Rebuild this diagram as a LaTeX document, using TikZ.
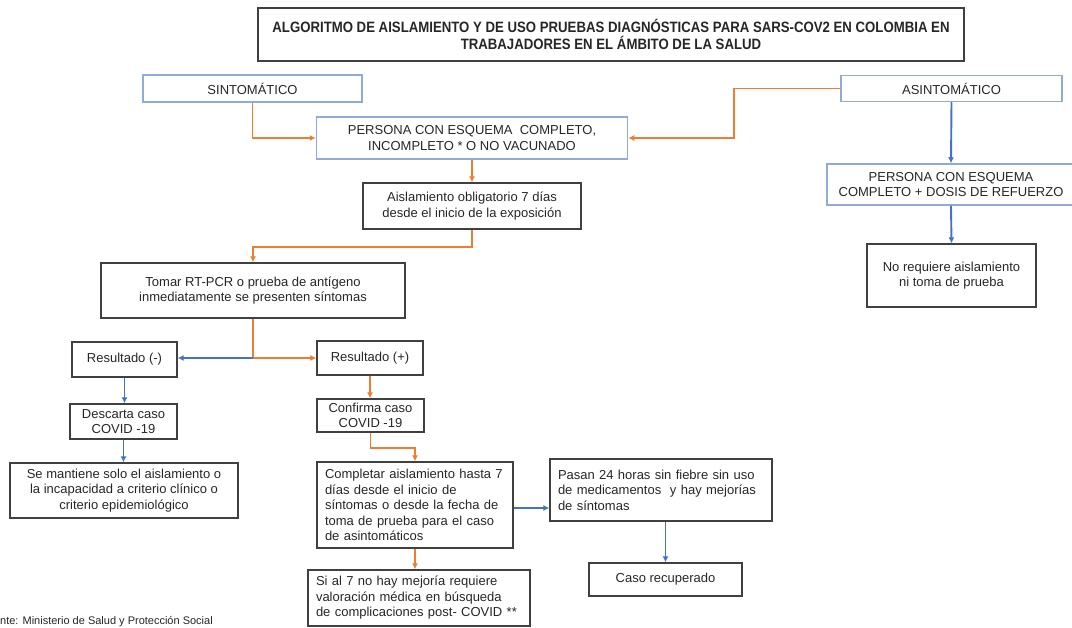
\documentclass[tikz,border=0pt]{standalone}
\usepackage{fontspec}
\setmainfont{Liberation Sans}
\newfontfamily\titlefont[FakeStretch=0.88]{Liberation Sans}
\usetikzlibrary{arrows.meta}
\definecolor{orn}{HTML}{ED7D31}
\definecolor{blu}{HTML}{4472C4}
\definecolor{lblu}{HTML}{8FAADC}
\definecolor{dk}{HTML}{404040}
\begin{document}
\begin{tikzpicture}[x=1pt,y=-1pt,
  box/.style={draw=dk, line width=1.3pt, inner sep=0pt, align=center,
    font=\fontsize{13}{15.5}\selectfont, text=black!85},
  bbox/.style={box, draw=lblu, line width=1.5pt},
  lbox/.style={box, align=left},
  oarrow/.style={draw=orn, line width=1.9pt, -{Latex[length=6pt,width=6pt]}},
  barrow/.style={draw=blu, line width=1.9pt, -{Latex[length=6pt,width=6pt]}},
]
\useasboundingbox (0,0) rectangle (1072,628);
\clip (0,0) rectangle (1072,628);

% title
\node[box, line width=1.6pt, minimum width=706pt, minimum height=53pt,
  font=\titlefont\bfseries\fontsize{15}{16.5}\selectfont] (title) at (611,34.5)
  {ALGORITMO DE AISLAMIENTO Y DE USO PRUEBAS DIAGNÓSTICAS PARA SARS-COV2 EN COLOMBIA EN\\
   TRABAJADORES EN EL ÁMBITO DE LA SALUD};

% top row
\node[bbox, minimum width=219pt, minimum height=27pt] (sint) at (252.5,88.5) {SINTOMÁTICO};
\node[bbox, minimum width=221pt, minimum height=26pt] (asint) at (951.5,88.5) {ASINTOMÁTICO};
\node[bbox, minimum width=311pt, minimum height=42pt] (persona) at (472,138)
  {PERSONA CON ESQUEMA\ \ COMPLETO,\\ INCOMPLETO * O NO VACUNADO};
\node[bbox, minimum width=248pt, minimum height=41pt] (dosis) at (951,184.5)
  {PERSONA CON ESQUEMA\\ COMPLETO + DOSIS DE REFUERZO};
\node[box, minimum width=169pt, minimum height=63pt] (noreq) at (951.5,275.5)
  {No requiere aislamiento\\ ni toma de prueba};

% left flow
\node[box, minimum width=218pt, minimum height=46pt] (aisl) at (472,206)
  {Aislamiento obligatorio 7 días\\ desde el inicio de la exposición};
\node[box, minimum width=304pt, minimum height=55pt] (tomar) at (253,290.5)
  {Tomar RT-PCR o prueba de antígeno\\ inmediatamente se presenten síntomas};
\node[box, minimum width=105pt, minimum height=35pt] (resneg) at (124.5,359.5) {Resultado (-)};
\node[box, minimum width=106pt, minimum height=34pt] (respos) at (370,358) {Resultado (+)};
\node[box, minimum width=107pt, minimum height=35pt] (descarta) at (123.5,421.5)
  {Descarta caso\\ COVID -19};
\node[box, minimum width=228pt, minimum height=55pt] (mantiene) at (124,490.5)
  {Se mantiene solo el aislamiento o\\ la incapacidad a criterio clínico o\\ criterio epidemiológico};
\node[box, minimum width=107pt, minimum height=33pt] (confirma) at (370.5,415.5)
  {Confirma caso\\ COVID -19};
\node[lbox, text width=180pt, inner xsep=8pt, minimum height=86pt] (completar) at (415,505)
  {Completar aislamiento hasta 7\\ días desde el inicio de\\ síntomas o desde la fecha de\\ toma de prueba para el caso\\ de asintomáticos};
\node[lbox, text width=206pt, inner xsep=8pt, minimum height=62pt] (pasan) at (661,490)
  {Pasan 24 horas sin fiebre sin uso\\ de medicamentos\ \ y hay mejorías\\ de síntomas};
\node[box, minimum width=153pt, minimum height=33pt] (caso) at (665.5,579.5) {Caso recuperado};
\node[lbox, text width=206pt, inner xsep=8pt, minimum height=56pt] (si7) at (419,598)
  {Si al 7 no hay mejoría requiere\\ valoración médica en búsqueda\\ de complicaciones post- COVID **};

% footer
\node[anchor=base west, inner sep=0pt, font=\fontsize{11}{13}\selectfont, text=black!85] (fuente)
  at (0,624.5) {nte: Ministerio de Salud y Protección Social};

% connectors
\draw[oarrow] (sint.south) |- (persona.west);
\draw[oarrow] (asint.west) -- ++(-106,0) |- (persona.east);
\draw[barrow] (asint.south) -- (dosis.north);
\draw[barrow] (dosis.south) -- (noreq.north);
\draw[oarrow] (persona.south) -- (aisl.north);
\draw[oarrow] (aisl.south) -- ++(0,17) -| (tomar.north);
\coordinate (split) at (253,358);
\draw[oarrow] (tomar.south) |- (respos.west);
\draw[barrow] (split) -- (split -| resneg.east);
\draw[barrow] (resneg.south) -- (resneg.south |- descarta.north);
\draw[barrow] (descarta.south) -- (descarta.south |- mantiene.north);
\draw[oarrow] (respos.south) -- (respos.south |- confirma.north);
\draw[oarrow] (confirma.south) -- ++(0,15) -| (completar.north);
\draw[barrow] ([yshift=-3pt]completar.east) -- ([yshift=-3pt]completar.east -| pasan.west);
\draw[oarrow] (completar.south) -- (completar.south |- si7.north);
\draw[barrow] (caso.north |- pasan.south) -- (caso.north);
\end{tikzpicture}
\end{document}
